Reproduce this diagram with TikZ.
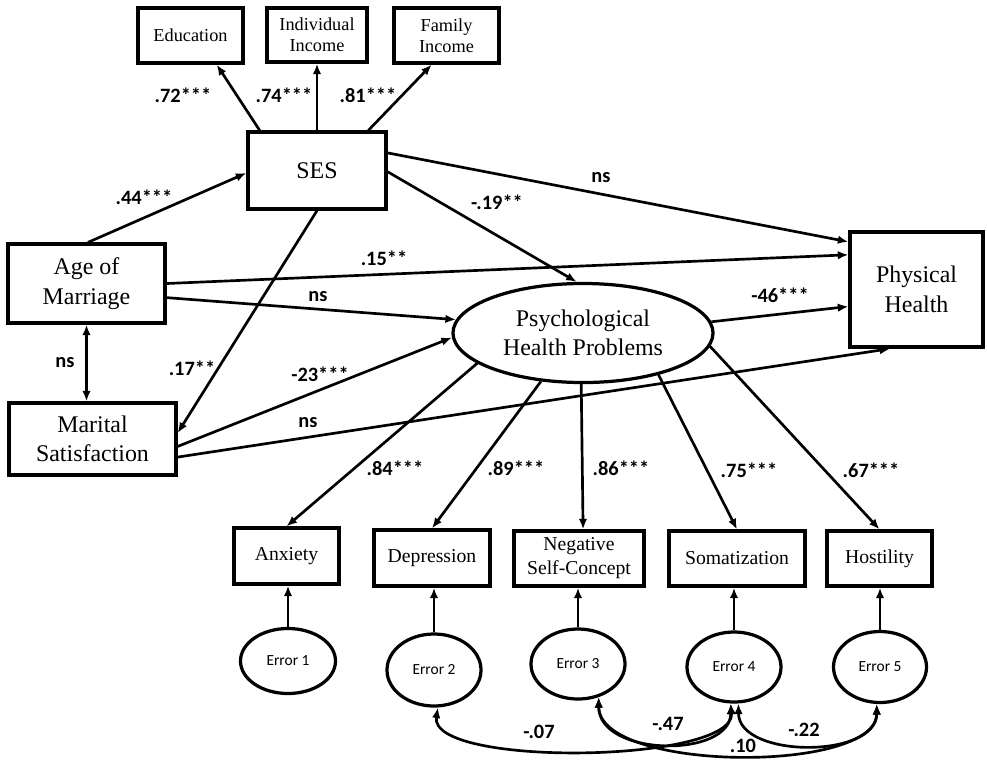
\documentclass[tikz,border=0pt]{standalone}
\usepackage{fontspec}
\setmainfont{Liberation Serif}
\newfontfamily\coeffont{Carlito}
\usetikzlibrary{positioning, arrows.meta, shapes.geometric}

\begin{document}
\begin{tikzpicture}[
    x=0.025cm, y=-0.025cm,
    >={Latex[length=7.5pt, width=6pt]},
    % Styles definition
    boxsize/.style 2 args={minimum width=#1*0.25mm, minimum height=#2*0.25mm},
    base/.style={draw=black, line width=2.3pt, align=center, inner sep=0pt},
    latent/.style={base, rectangle, font=\fontsize{17}{21}\selectfont},
    indicator/.style={base, rectangle, font=\fontsize{13}{15}\selectfont},
    symptom/.style={base, rectangle, font=\fontsize{14}{17}\selectfont},
    construct/.style={base, ellipse, font=\fontsize{17}{21}\selectfont},
    errnode/.style={base, ellipse, font=\coeffont\fontsize{11}{13}\selectfont},
    coef/.style={font=\coeffont\bfseries\fontsize{14.5}{16}\selectfont, inner sep=1pt},
    arrow/.style={->, line width=1.9pt},
    twoway/.style={<->, line width=1.9pt}
]
\useasboundingbox (0,0) rectangle (987,759);

% 1. SES and its indicators
\node[indicator, boxsize={105}{55}] (edu) at (190.5,35.5) {Education};
\node[indicator, boxsize={100}{54}] (indinc) at (317,35) {Individual\\Income};
\node[indicator, boxsize={105}{55}] (faminc) at (446.5,35.5) {Family\\Income};
\node[latent, boxsize={138}{77}] (ses) at (317,170.5) {SES};

% 2. Predictors
\node[latent, boxsize={157}{79}] (age) at (86.5,283.5) {Age of\\Marriage};
\node[latent, boxsize={167}{72}] (marital) at (92.5,439) {Marital\\Satisfaction};

% 3. Outcomes
\node[construct, boxsize={260}{99}] (psych) at (583,333) {Psychological\\Health Problems};
\node[latent, boxsize={133}{115}] (phys) at (916.5,289.5) {Physical\\Health};

% 4. Symptom indicators
\node[symptom, boxsize={105}{56}] (anx) at (286.5,556) {Anxiety};
\node[symptom, boxsize={116}{56}] (dep) at (432,558) {Depression};
\node[symptom, boxsize={130}{55}] (neg) at (579,558.5) {Negative\\Self-Concept};
\node[symptom, boxsize={136}{55}] (som) at (737,558.5) {Somatization};
\node[symptom, boxsize={105}{55}] (host) at (879.5,558.5) {Hostility};

% 5. Error terms
\node[errnode, boxsize={95}{65}] (err1) at (288,661) {Error 1};
\node[errnode, boxsize={94}{72}] (err2) at (434,670) {Error 2};
\node[errnode, boxsize={94}{70}] (err3) at (578,664) {Error 3};
\node[errnode, boxsize={94}{70}] (err4) at (734,667) {Error 4};
\node[errnode, boxsize={93}{71}] (err5) at (880,667) {Error 5};

% --- Paths ---

% SES -> indicators
\draw[arrow] (ses.145) -- (edu.-48);
\draw[arrow] (ses) -- (indinc);
\draw[arrow] (ses.38) -- (faminc.-117);
\node[coef] (c_edu) at (183,95) {.72***};
\node[coef] (c_ind) at (284,95) {.74***};
\node[coef] (c_fam) at (368,95) {.81***};

% Age of marriage
\draw[arrow] (age.88) -- (ses.182);
\node[coef] (c_age_ses) at (144,197) {.44***};
\draw[arrow] (age.east) -- (phys.153);
\node[coef] (c_age_phys) at (384,258) {.15**};
\draw[arrow] (age.-10) -- (psych.174);
\node[coef] (c_age_psy) at (318,297) {ns};
\draw[twoway] (age.south) -- (age.south |- marital.north);
\node[coef] (c_age_mar) at (65,363) {ns};

% SES paths
\draw[arrow] (ses.14) -- (phys.145);
\node[coef] (c_ses_phys) at (601,178) {ns};
\draw[arrow] (ses.-1) -- (psych.97);
\node[coef] (c_ses_psy) at (497,202) {-.19**};
\draw[arrow] (ses.south) -- (marital.4);
\node[coef] (c_ses_mar) at (192,368) {.17**};

% Marital satisfaction
\draw[arrow] (marital.-5) -- (psych.182);
\node[coef] (c_mar_psy) at (320,374) {-23***};
\draw[arrow] (marital.-12) -- (phys.-114);
\node[coef] (c_mar_phys) at (308,423) {ns};

% Psychological -> physical
\draw[arrow] (psych.5) -- (phys.194);
\node[coef] (c_psy_phys) at (780,295) {-46***};

% Psychological -> symptoms
\draw[arrow] (psych.196) -- (anx.north);
\node[coef] (c_anx) at (395,468) {.84***};
\draw[arrow] (psych.229) -- (dep.north);
\node[coef] (c_dep) at (516,468) {.89***};
\draw[arrow] (psych.268) -- (neg.82);
\node[coef] (c_neg) at (621,468) {.86***};
\draw[arrow] (psych.-29) -- (som.north);
\node[coef] (c_som) at (749,470) {.75***};
\draw[arrow] (psych.-6) -- (host.north);
\node[coef] (c_host) at (871,470) {.67***};

% Errors -> symptoms
\foreach \e/\s in {err1/anx, err2/dep, err3/neg, err4/som, err5/host}
    \draw[arrow] (\e) -- (\e |- \s.south);

% Error covariances
\draw[twoway] (err2.-84) .. controls +(-10,60) and +(5,60) .. (err4.-95);
\node[coef] (c_e24) at (539,732) {-.07};
\draw[twoway] (err3.-58) .. controls +(0,60) and +(0,55) .. (err4.-95);
\node[coef] (c_e34) at (668,724) {-.47};
\draw[twoway] (err3.-58) .. controls +(0,75) and +(0,70) .. (err5.-95);
\node[coef] (c_e35) at (743,746) {.10};
\draw[twoway] (err4.-83) .. controls +(0,55) and +(0,55) .. (err5.-95);
\node[coef] (c_e45) at (804,730) {-.22};

\end{tikzpicture}
\end{document}
